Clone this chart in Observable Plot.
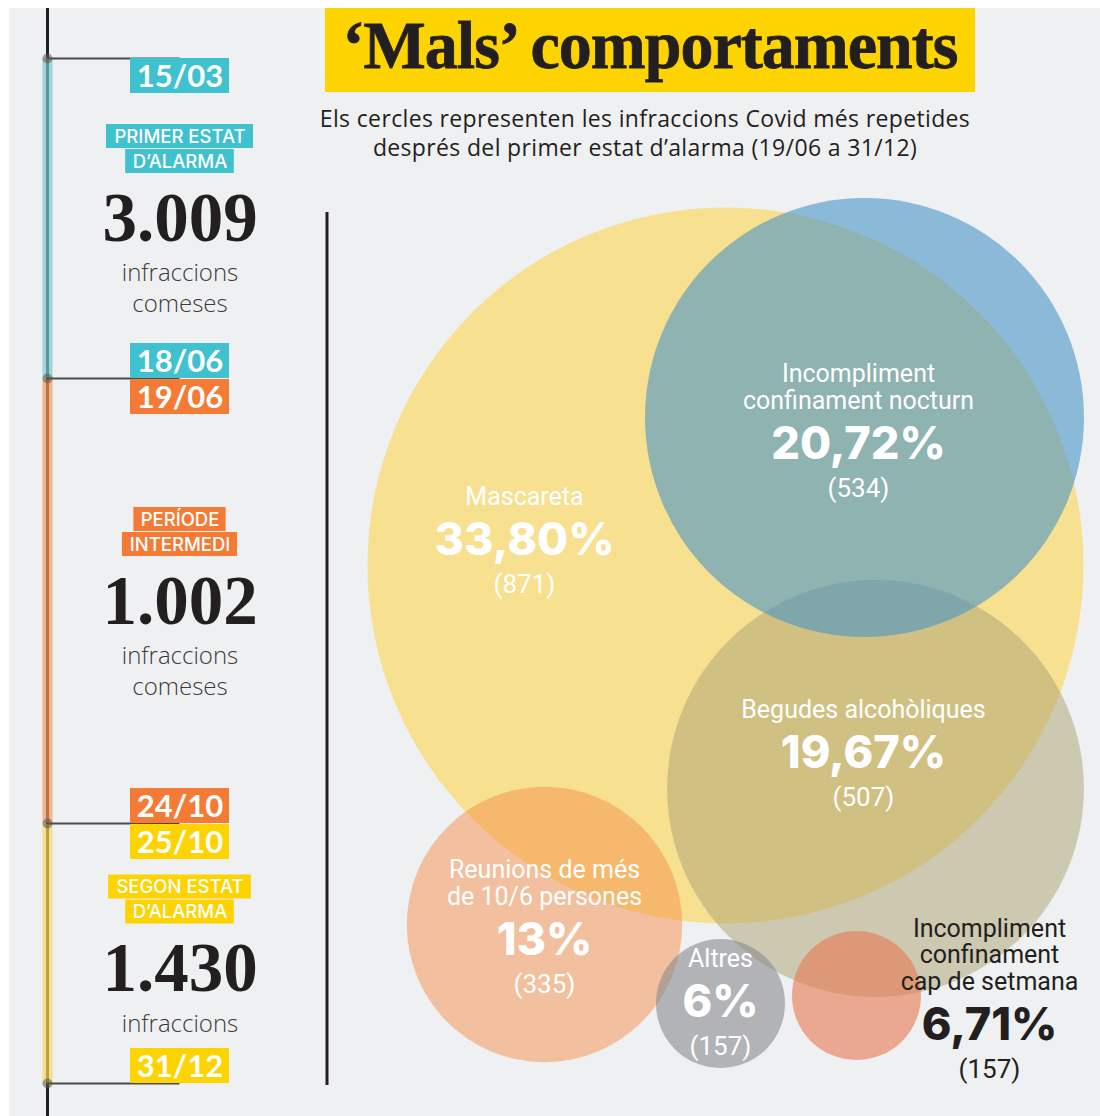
<!DOCTYPE html>
<html>
<head>
<meta charset="utf-8">
<script src="https://cdn.jsdelivr.net/npm/d3@7"></script>
<script src="https://cdn.jsdelivr.net/npm/@observablehq/plot@0.6"></script>
<style>
  html, body { margin: 0; padding: 0; background: #ffffff; }
  #wrap { position: relative; width: 1100px; height: 1116px; overflow: hidden; background: #ffffff; }
  #panel { position: absolute; left: 9px; top: 8px; right: 0; bottom: 0; background: #eff0f2; }
  #title { position: absolute; left: 325px; top: 8px; width: 650px; height: 84px; background: #fdd400;
           font-family: "Liberation Serif", serif; font-weight: 700; font-size: 68px; line-height: 74px;
           color: #231f20; text-align: center; white-space: nowrap; }
  #title span { display: inline-block; transform: scaleX(0.97); transform-origin: center; letter-spacing: -1px;
                -webkit-text-stroke: 0.8px #231f20; }
  #subtitle { position: absolute; left: 280px; width: 730px; text-align: center;
              font-family: "Open Sans", sans-serif; font-size: 23px; line-height: 29px; color: #231f20; letter-spacing: 0.35px; }
  #sub1 { top: 104px; } #sub2 { top: 133px; }
  #wrap svg { position: absolute; left: 0; top: 0; background: transparent; overflow: visible; }
  g[aria-label="note"] text { letter-spacing: 0.8px; }
  g[aria-label="total"] text { letter-spacing: 3px; }
  g[aria-label="tag"] text { letter-spacing: 0.5px; }
</style>
</head>
<body>
<div id="wrap">
  <div id="panel"></div>
  <div id="title"><span>‘Mals’ comportaments</span></div>
  <div id="subtitle"></div>
</div>
<script>
// ---------------- DATA ----------------
const categories = ["Mascareta", "Incompliment\nconfinament nocturn", "Begudes alcohòliques",
                    "Reunions de més\nde 10/6 persones", "Altres", "Incompliment\nconfinament\ncap de setmana"];
const percents = [33.80, 20.72, 19.67, 13, 6, 6.71];
const counts = [871, 534, 507, 335, 157, 157];

const periodNames = ["PRIMER ESTAT\nD’ALARMA", "PERÍODE\nINTERMEDI", "SEGON ESTAT\nD’ALARMA"];
const periodStarts = ["2020-03-15", "2020-06-19", "2020-10-25"];
const periodEnds = ["2020-06-18", "2020-10-24", "2020-12-31"];
const periodTotals = [3009, 1002, 1430];
const periodNotes = ["infraccions\ncomeses", "infraccions\ncomeses", "infraccions"];

const subtitleLines = ["Els cercles representen les infraccions Covid més repetides",
                       "després del primer estat d’alarma (19/06 a 31/12)"];

// ---------------- STYLE ----------------
const ink = "#231f20";
const periodColors = ["#3fc1cf", "#f47b35", "#fdd400"];
const bandColors = ["#7ec7d2", "#f39a60", "#f8d95d"];
const circleFill = ["#f7e08f", "#4894c7", "#b1a77a", "#f5904a", "#888a90", "#e77d54"];
const circleOpacity = [1, 0.6, 0.55, 0.5, 0.6, 0.62];
const labelInk = ["#ffffff", "#ffffff", "#ffffff", "#ffffff", "#ffffff", ink];

// ---------------- LAYOUT ----------------
const layout = {
  timelineX: [47, 179.5],                       // timeline axis, label column centre
  timelineStops: [58, 378, 379, 823, 824, 1083],// piecewise time scale range
  dateBox: {w: 99, h: 35},
  tagOffsets: [-82, -57], tagH: 24, tagPadX: 5, tagFont: 18.5, tagSpacing: 0.5,
  periodShift: [0, 0, 15],
  noteOffset: 55, noteStep: 31,
  maxRadius: 358,
  circleCenter: [[725, 565], [864, 417], [875, 788], [544, 924], [720, 1003], [856, 995]],
  labelAnchor: [[524, 540], [858, 444], [863, 753], [544, 940], [720, 1002], [989, 1025]],
  drawOrder: [0, 2, 1, 3, 4, 5],
  separator: {x: 326.5, y1: 212, y2: 1085}
};

// subtitle (HTML, outside the SVG)
const subEl = document.getElementById("subtitle");
subEl.removeAttribute("id");
subtitleLines.forEach((t, i) => {
  const div = document.createElement("div");
  div.id = "subtitle"; div.className = "";
  div.textContent = t;
  div.style.top = (i === 0 ? 104 : 133) + "px";
  document.getElementById("wrap").appendChild(div);
});
subEl.remove();

// ---------------- HELPERS ----------------
const parse = d3.utcParse("%Y-%m-%d");
const fmtDate = d3.utcFormat("%d/%m");
const locale = d3.formatLocale({decimal: ",", thousands: ".", grouping: [3], currency: ["", "€"]});
const fmtTotal = locale.format(",d");
const fmtPct = v => (Number.isInteger(v) ? String(v) : v.toFixed(2).replace(".", ",")) + "%";

const ctx = document.createElement("canvas").getContext("2d");
function measure(text, font) { ctx.font = font; return ctx.measureText(text).width; }

const periods = periodNames.map((name, i) => ({
  i, name, start: parse(periodStarts[i]), end: parse(periodEnds[i]),
  total: periodTotals[i], note: periodNotes[i]
}));
const stopDates = periods.flatMap(p => [p.start, p.end]);

// rect anchored at (x=1, y=date) expanded by insets
function box(date, color, w, h, off) {
  return Plot.rect([date], {
    x1: () => 1, x2: () => 1, y1: d => d, y2: d => d,
    fill: color,
    insetLeft: -w / 2, insetRight: -w / 2,
    insetTop: off - h / 2, insetBottom: -(off + h / 2)
  });
}

// ---------------- TIMELINE PLOT ----------------
const tMarks = [];
tMarks.push(Plot.ruleX([0], {x: d => d, stroke: ink, strokeWidth: 3, insetTop: 8}));
tMarks.push(Plot.ruleX(periods, {x: () => 0, y1: "start", y2: "end", stroke: d => bandColors[d.i], strokeWidth: 10, strokeOpacity: 0.7}));
const boundaries = [periods[0].start, ...periods.map(p => p.end)];
tMarks.push(Plot.ruleY(boundaries, {y: d => d, x1: () => 0, x2: () => 1, stroke: "#4a4a4c", strokeWidth: 2}));
tMarks.push(Plot.dot(boundaries, {x: () => 0, y: d => d, r: 5, fill: "#5a5a4a", fillOpacity: 0.55}));

periods.forEach(p => {
  const c = periodColors[p.i];
  // start date: box below, end date: box above
  tMarks.push(box(p.start, c, layout.dateBox.w, layout.dateBox.h, layout.dateBox.h / 2));
  tMarks.push(box(p.end, c, layout.dateBox.w, layout.dateBox.h, -layout.dateBox.h / 2));
  tMarks.push(Plot.text([p.start], {x: () => 1, y: d => d, text: d => fmtDate(d), dy: layout.dateBox.h / 2 + 1,
    fill: "#fff", fontFamily: "Lato", fontWeight: 700, fontSize: 31, lineAnchor: "middle"}));
  tMarks.push(Plot.text([p.end], {x: () => 1, y: d => d, text: d => fmtDate(d), dy: -layout.dateBox.h / 2 + 1,
    fill: "#fff", fontFamily: "Lato", fontWeight: 700, fontSize: 31, lineAnchor: "middle"}));

  const mid = new Date((+p.start + +p.end) / 2);
  const shift = layout.periodShift[p.i];
  p.name.split("\n").forEach((line, j) => {
    const off = layout.tagOffsets[j] + shift;
    const w = measure(line, `500 ${layout.tagFont}px Inter`) + line.length * layout.tagSpacing + 2 * layout.tagPadX;
    tMarks.push(box(mid, c, w, layout.tagH, off));
    tMarks.push(Plot.text([line], {x: () => 1, y: () => mid, text: d => d, dy: off + 0.5, ariaLabel: "tag",
      fill: "#fff", fontFamily: "Inter", fontWeight: 500, fontSize: layout.tagFont, lineAnchor: "middle"}));
  });
  tMarks.push(Plot.text([p], {x: () => 1, y: () => mid, text: d => fmtTotal(d.total), dy: shift, ariaLabel: "total",
    fill: ink, fontFamily: "Liberation Serif", fontWeight: 700, fontSize: 69, lineAnchor: "middle"}));
  p.note.split("\n").forEach((line, j) => {
    tMarks.push(Plot.text([line], {x: () => 1, y: () => mid, text: d => d,
      dy: shift + layout.noteOffset + j * layout.noteStep, ariaLabel: "note",
      fill: "#3a3a3c", fontFamily: "Open Sans", fontWeight: 300, fontSize: 24, lineAnchor: "middle"}));
  });
});

const timeline = Plot.plot({
  width: 330, height: 1116, margin: 0,
  style: {background: "transparent", overflow: "visible"},
  x: {domain: [0, 1], range: layout.timelineX, axis: null},
  y: {type: "utc", domain: stopDates, range: layout.timelineStops, axis: null},
  color: {type: "identity"},
  marks: tMarks
});

// ---------------- BUBBLE PLOT ----------------
const items = categories.map((name, i) => ({
  i, name, pct: percents[i], count: counts[i],
  cx: layout.circleCenter[i][0], cy: layout.circleCenter[i][1],
  lx: layout.labelAnchor[i][0], ly: layout.labelAnchor[i][1]
}));

const bMarks = [
  Plot.ruleX([layout.separator.x], {x: d => d, y1: () => layout.separator.y1, y2: () => layout.separator.y2, stroke: ink, strokeWidth: 3})
];
layout.drawOrder.forEach(i => {
  bMarks.push(Plot.dot([items[i]], {x: "cx", y: "cy", r: "count", fill: circleFill[i], fillOpacity: circleOpacity[i], stroke: "none"}));
});
items.forEach(d => {
  const col = labelInk[d.i];
  bMarks.push(Plot.text([d], {x: "lx", y: "ly", text: "name", dy: -36, lineAnchor: "bottom", lineHeight: 1.05,
    fill: col, fontFamily: "Roboto", fontSize: 25, fontWeight: 400}));
  bMarks.push(Plot.text([d], {x: "lx", y: "ly", text: d => fmtPct(d.pct), dy: 0, lineAnchor: "middle",
    fill: col, fontFamily: "Inter", fontSize: 45, fontWeight: 800}));
  bMarks.push(Plot.text([d], {x: "lx", y: "ly", text: d => `(${d.count})`, dy: 44, lineAnchor: "middle",
    fill: col, fontFamily: "Roboto", fontSize: 26, fontWeight: 400}));
});

const bubbles = Plot.plot({
  width: 1100, height: 1116, margin: 0,
  style: {background: "transparent", overflow: "visible"},
  x: {domain: [0, 1100], range: [0, 1100], axis: null},
  y: {domain: [0, 1116], range: [0, 1116], axis: null},
  r: {type: "linear", domain: [0, d3.max(counts)], range: [0, layout.maxRadius]},
  marks: bMarks
});

const wrap = document.getElementById("wrap");
wrap.appendChild(bubbles);
wrap.appendChild(timeline);
</script>
</body>
</html>
